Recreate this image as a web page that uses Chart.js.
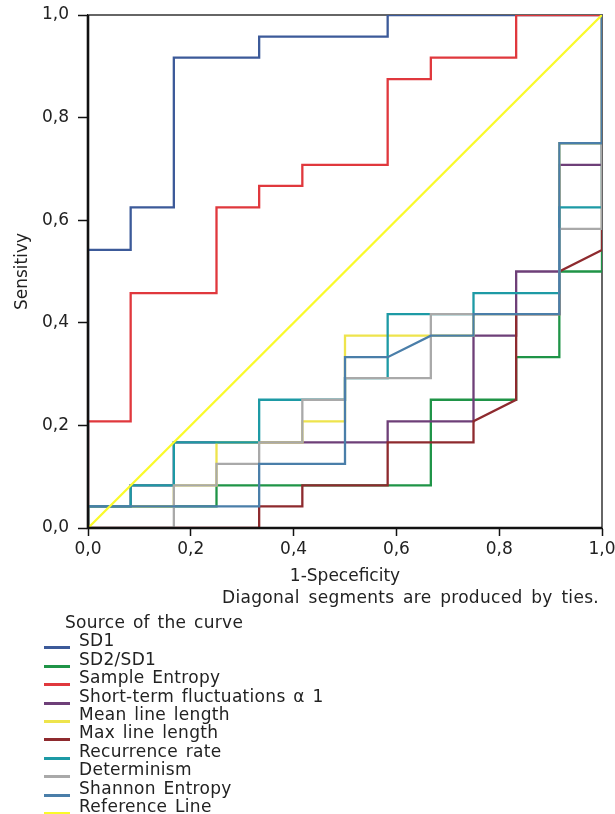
<!DOCTYPE html>
<html>
<head>
<meta charset="utf-8">
<script src="https://cdn.jsdelivr.net/npm/chart.js@4.4.1/dist/chart.umd.min.js"></script>
<style>
  body { margin: 0; background: #fff; }
  #wrap { position: relative; width: 615px; height: 814px; font-family: "DejaVu Sans", Verdana, sans-serif; color: #222; }
  #chartRoc { position: absolute; left: 0; top: 0; }
  #note { position: absolute; right: 16px; top: 588px; font-size: 17px; line-height: 18.4px; white-space: nowrap; letter-spacing: 0.3px; word-spacing: 3px; }
  #legend { position: absolute; left: 0; top: 613px; font-size: 17px; line-height: 18.4px; letter-spacing: 0.3px; word-spacing: 2px; }
  #legend .ttl { padding-left: 65px; }
  #legend .row { position: relative; padding-left: 79px; white-space: nowrap; }
  #legend .sw { position: absolute; left: 44px; top: 15px; width: 26px; height: 3px; }
</style>
</head>
<body>
<div id="wrap">
  <canvas id="chartRoc" width="615" height="814"></canvas>
  <div id="note">Diagonal segments are produced by ties.</div>
  <div id="legend"><div class="ttl">Source of the curve</div></div>
</div>
<script>
// ROC curves: 1-specificity (x) and sensitivity (y) vertices
const curveNames = ["SD1", "SD2/SD1", "Sample Entropy", "Short-term fluctuations \u03b1 1",
  "Mean line length", "Max line length", "Recurrence rate", "Determinism", "Shannon Entropy", "Reference Line"];

const sd1X = [0, 0, .083, .083, .167, .167, .333, .333, .583, .583, 1];
const sd1Y = [0, .542, .542, .625, .625, .917, .917, .958, .958, 1, 1];

const sd2X = [0, 0, .25, .25, .667, .667, .833, .833, .917, .917, 1, 1];
const sd2Y = [0, .042, .042, .083, .083, .25, .25, .333, .333, .5, .5, 1];

const sampEnX = [0, 0, .083, .083, .25, .25, .333, .333, .417, .417, .583, .583, .667, .667, .833, .833, 1];
const sampEnY = [0, .208, .208, .458, .458, .625, .625, .667, .667, .708, .708, .875, .875, .917, .917, 1, 1];

const alpha1X = [0, 0, .083, .083, .167, .167, .583, .583, .75, .75, .833, .833, .917, .917, 1, 1];
const alpha1Y = [0, .042, .042, .083, .083, .167, .167, .208, .208, .375, .375, .5, .5, .708, .708, 1];

const meanLX = [0, 0, .167, .167, .25, .25, .417, .417, .5, .5, .75, .75, .917, .917, 1, 1];
const meanLY = [0, .042, .042, .083, .083, .167, .167, .208, .208, .375, .375, .417, .417, .75, .75, 1];

const maxLX = [0, .333, .333, .417, .417, .583, .583, .75, .75, .833, .833, .917, .917, 1, 1];
const maxLY = [0, 0, .042, .042, .083, .083, .167, .167, .208, .25, .417, .417, .5, .542, 1];

const recX = [0, 0, .083, .083, .167, .167, .333, .333, .5, .5, .583, .583, .75, .75, .917, .917, 1, 1];
const recY = [0, .042, .042, .083, .083, .167, .167, .25, .25, .292, .292, .417, .417, .458, .458, .625, .625, 1];

const detX = [0, .167, .167, .25, .25, .333, .333, .417, .417, .5, .5, .667, .667, .917, .917, 1, 1];
const detY = [0, 0, .083, .083, .125, .125, .167, .167, .25, .25, .292, .292, .417, .417, .583, .583, 1];

const shanX = [0, 0, .333, .333, .5, .5, .583, .667, .75, .75, .917, .917, 1, 1];
const shanY = [0, .042, .042, .125, .125, .333, .333, .375, .375, .417, .417, .75, .75, 1];

const refX = [0, 1];
const refY = [0, 1];

const axisTicks = [0, 0.2, 0.4, 0.6, 0.8, 1];

const curveX = [sd1X, sd2X, sampEnX, alpha1X, meanLX, maxLX, recX, detX, shanX, refX];
const curveY = [sd1Y, sd2Y, sampEnY, alpha1Y, meanLY, maxLY, recY, detY, shanY, refY];
const colors = ["#3c5a99", "#1f9447", "#e0383d", "#6e3f78", "#eee44c", "#8e2a2e",
  "#1d9aa5", "#a9a9a9", "#4a7ea9", "#fafa2a"];

const FONT = "'DejaVu Sans', Verdana, sans-serif";
const el = (id) => document.getElementById(id);
const fmt = (v) => Number(v).toFixed(1).replace(".", ",");

// caja del grafico: arriba y derecha debajo de las curvas, ejes encima
const framePlugin = {
  id: "frame",
  beforeDatasetsDraw(chart) {
    const { ctx, chartArea: a } = chart;
    ctx.save();
    ctx.strokeStyle = "#666";
    ctx.lineWidth = 2;
    ctx.beginPath();
    ctx.moveTo(a.left, a.top);
    ctx.lineTo(a.right, a.top);
    ctx.lineTo(a.right, a.bottom);
    ctx.stroke();
    ctx.restore();
  },
  afterDatasetsDraw(chart) {
    const { ctx, chartArea: a } = chart;
    ctx.save();
    ctx.strokeStyle = "#111";
    ctx.lineWidth = 2.6;
    ctx.beginPath();
    ctx.moveTo(a.left, a.top);
    ctx.lineTo(a.left, a.bottom);
    ctx.lineTo(a.right, a.bottom);
    ctx.stroke();
    ctx.restore();
  },
};

function renderRoc() {
  const datasets = curveNames.map((name, i) => ({
    label: name,
    data: curveX[i].map((x, j) => ({ x, y: curveY[i][j] })),
    showLine: true,
    borderColor: colors[i],
    backgroundColor: colors[i],
    borderWidth: 2.3,
    pointRadius: 0,
    tension: 0,
    fill: false,
    order: curveNames.length - i,
  }));

  new Chart(el("chartRoc").getContext("2d"), {
    type: "scatter",
    data: { datasets },
    plugins: [framePlugin],
    options: {
      responsive: false,
      animation: false,
      layout: { padding: { left: 0, top: 15, right: 13, bottom: 226 } },
      plugins: { legend: { display: false }, tooltip: { enabled: false } },
      scales: {
        x: {
          type: "linear",
          min: 0,
          max: 1,
          afterBuildTicks: (s) => { s.ticks = axisTicks.map((v) => ({ value: v })); },
          afterFit: (s) => { s.height = 60; s.paddingRight = 0; s.paddingLeft = 0; },
          ticks: { callback: fmt, color: "#222", font: { family: FONT, size: 17 }, padding: 3, maxRotation: 0 },
          grid: { drawOnChartArea: false, drawTicks: true, tickLength: 8, tickColor: "#111", tickWidth: 1.5 },
          border: { color: "#111", width: 2 },
          title: { display: true, text: "1-Speceficity", color: "#222", font: { family: FONT, size: 17 }, padding: { top: 0, bottom: 1 } },
        },
        y: {
          type: "linear",
          min: 0,
          max: 1,
          afterBuildTicks: (s) => { s.ticks = axisTicks.map((v) => ({ value: v })); },
          afterFit: (s) => { s.width = 88; s.paddingTop = 0; s.paddingBottom = 0; },
          ticks: { callback: fmt, color: "#222", font: { family: FONT, size: 17 }, padding: 9 },
          grid: { drawOnChartArea: false, drawTicks: true, tickLength: 10, tickColor: "#111", tickWidth: 1.5 },
          border: { color: "#111", width: 2 },
          title: { display: true, text: "Sensitivy", color: "#222", font: { family: FONT, size: 17 }, padding: { top: 12, bottom: 0 } },
        },
      },
    },
  });
}

function renderLegend() {
  const box = el("legend");
  curveNames.forEach((name, i) => {
    const row = document.createElement("div");
    row.className = "row";
    const sw = document.createElement("span");
    sw.className = "sw";
    sw.style.background = colors[i];
    row.appendChild(sw);
    row.appendChild(document.createTextNode(name));
    box.appendChild(row);
  });
}

renderRoc();
renderLegend();
</script>
</body>
</html>
